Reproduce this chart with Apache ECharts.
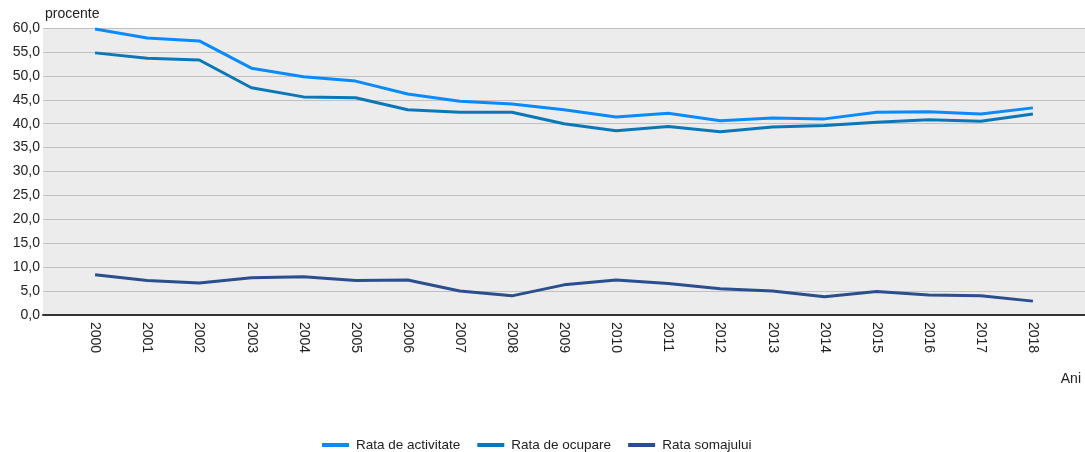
<!DOCTYPE html>
<html>
<head>
<meta charset="utf-8">
<script src="https://cdn.jsdelivr.net/npm/echarts@6/dist/echarts.min.js"></script>
<style>
  html, body { margin: 0; padding: 0; background: #fff; }
  #chart { width: 1085px; height: 452px; }
</style>
</head>
<body>
<div id="chart"></div>
<script>
// ani (cu cate o categorie goala la capete, ca in original)
const years = ["", "2000", "2001", "2002", "2003", "2004", "2005", "2006", "2007", "2008", "2009",
  "2010", "2011", "2012", "2013", "2014", "2015", "2016", "2017", "2018", ""];

const rataActivitate = [59.8, 57.9, 57.3, 51.6, 49.8, 48.9, 46.2, 44.7, 44.1, 42.9,
  41.4, 42.2, 40.6, 41.2, 41.0, 42.4, 42.5, 42.0, 43.3];
const rataOcupare = [54.8, 53.7, 53.3, 47.5, 45.6, 45.4, 42.9, 42.4, 42.4, 40.0,
  38.5, 39.4, 38.3, 39.3, 39.6, 40.3, 40.8, 40.5, 42.0];
const rataSomaj = [8.4, 7.2, 6.7, 7.8, 8.0, 7.2, 7.3, 5.0, 4.0, 6.3,
  7.3, 6.6, 5.5, 5.0, 3.8, 4.9, 4.2, 4.0, 2.9];

const pad = (arr) => [null].concat(arr, [null]);

const chart = echarts.init(document.getElementById("chart"));

function line(name, data, color) {
  return {
    name: name,
    type: "line",
    data: pad(data),
    symbol: "none",
    lineStyle: { color: color, width: 3 },
    itemStyle: { color: color },
    animation: false,
  };
}

chart.setOption({
  textStyle: { fontFamily: "Liberation Sans, Arial, sans-serif" },
  grid: {
    left: 43,
    right: -4,
    top: 28,
    bottom: 137,
    show: true,
    backgroundColor: "#ececec",
    borderWidth: 0,
  },
  legend: {
    top: 433,
    left: 317,
    itemWidth: 27,
    itemHeight: 4,
    itemGap: 17,
    icon: "rect",
    textStyle: { fontSize: 13.5, color: "#222", padding: [0, 0, 0, 2] },
    data: ["Rata de activitate", "Rata de ocupare", "Rata somajului"],
  },
  xAxis: {
    type: "category",
    data: years,
    boundaryGap: false,
    name: "Ani",
    nameLocation: "end",
    nameGap: 0,
    nameTextStyle: { fontSize: 14, color: "#222", align: "right", verticalAlign: "top", padding: [57, 4, 0, 0] },
    axisLine: { lineStyle: { color: "#333", width: 2 } },
    axisTick: { show: false },
    splitLine: { show: false },
    axisLabel: {
      rotate: -90,
      interval: 0,
      fontSize: 14,
      color: "#222",
      margin: 7,
    },
  },
  yAxis: {
    type: "value",
    min: 0,
    max: 60,
    interval: 5,
    name: "procente",
    nameLocation: "end",
    nameGap: 5,
    nameTextStyle: { fontSize: 14, color: "#222", align: "left", padding: [0, 0, 0, 2] },
    axisLine: { show: false },
    axisTick: { show: false },
    splitLine: { lineStyle: { color: "#c0c0c0", width: 1 } },
    axisLabel: {
      fontSize: 14,
      color: "#222",
      margin: 3,
      formatter: (v) => v.toFixed(1).replace(".", ","),
    },
  },
  series: [
    line("Rata de activitate", rataActivitate, "#0a8aff"),
    line("Rata de ocupare", rataOcupare, "#0a78b8"),
    line("Rata somajului", rataSomaj, "#2b4e8e"),
  ],
});
</script>
</body>
</html>
